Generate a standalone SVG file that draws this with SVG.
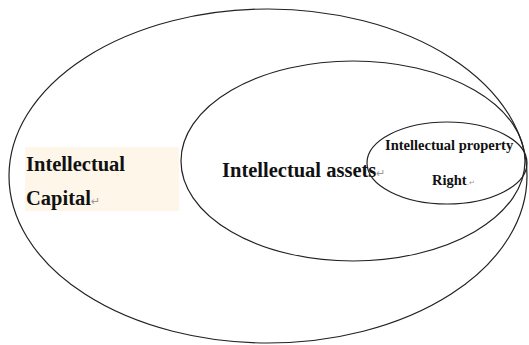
<svg xmlns="http://www.w3.org/2000/svg" width="529" height="345" viewBox="0 0 529 345">
<style>
.e{fill:none;stroke:#222;stroke-width:1.2}
.t{font-family:"Liberation Serif","Times New Roman",serif;font-weight:bold;fill:#111}
.m{font-family:"DejaVu Sans",sans-serif;fill:#999}
</style>
<rect width="529" height="345" fill="#fff"/>
<g id="capital">
<ellipse class="e" cx="268" cy="176" rx="259" ry="167"/>
<rect x="25" y="147" width="154" height="64" fill="#fef6e8"/>
<text class="t" x="26" y="171" font-size="20.5">Intellectual</text>
<text class="t" x="26" y="205" font-size="20.5">Capital<tspan class="m" font-size="11" font-weight="normal">↵</tspan></text>
</g>
<g id="assets">
<ellipse class="e" cx="353" cy="161" rx="172" ry="100"/>
<text class="t" x="222" y="177" font-size="20.5">Intellectual assets<tspan class="m" font-size="11" font-weight="normal">↵</tspan></text>
</g>
<g id="ipr">
<ellipse class="e" cx="447" cy="163" rx="80" ry="41"/>
<text class="t" x="385" y="150" font-size="14.5">Intellectual property</text>
<text class="t" x="432" y="185" font-size="14.5">Right<tspan class="m" font-size="7" font-weight="normal">.↵</tspan></text>
</g>
<g id="connectors"/>
</svg>
